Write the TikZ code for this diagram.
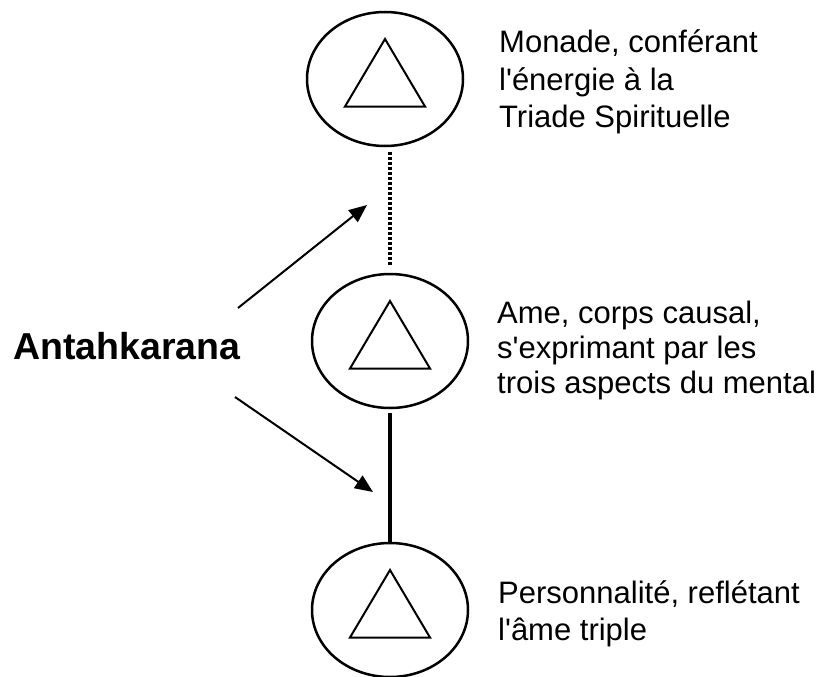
\documentclass[tikz,border=0pt]{standalone}
\usepackage{fontspec}
\setmainfont{Liberation Sans}[Ligatures={TeXOff,CommonOff}]
\usepackage{tikz}
\usetikzlibrary{shapes.geometric,arrows.meta}

\begin{document}
\begin{tikzpicture}[x=1pt,y=-1pt,
	plan/.style={draw,ellipse,line width=2.5pt,minimum width=156pt,minimum height=134pt,inner sep=0pt},
	legende/.style={anchor=base west,inner sep=0pt,align=left},
	fleche/.style={line width=2pt,-{Triangle[length=18pt,width=15pt]}}]
	\useasboundingbox (0,0) rectangle (825,677);
	% les trois plans
	\path (385,79) node[plan] (monade) {};
	\path (390,341) node[plan] (ame) {};
	\path (390,610) node[plan] (perso) {};
	\foreach \n in {monade,ame,perso}
		\draw[line width=2pt] ([shift={(0,-40)}]\n.center) -- ([shift={(40,27.5)}]\n.center) -- ([shift={(-40,27.5)}]\n.center) -- cycle;
	% liens
	\draw[line width=3.5pt,dash pattern=on 3pt off 2pt,shorten <=5pt,shorten >=6pt] (monade.south -| ame.north) -- (ame.north);
	\draw[line width=4pt,shorten <=4pt] (ame.south) -- (perso.north);
	% textes (ancre sur la derniere ligne)
	\path (499,128) node[legende,font=\fontsize{31}{38}\selectfont] (txtmonade) {Monade, conférant\\l'énergie à la\\Triade Spirituelle};
	\path (497,393) node[legende,font=\fontsize{31}{35}\selectfont] (txtame) {Ame, corps causal,\\s'exprimant par les\\trois aspects du mental};
	\path (498,640) node[legende,font=\fontsize{31}{37}\selectfont] (txtperso) {Personnalité, reflétant\\l'âme triple};
	\path (13,359) node[anchor=base west,inner sep=0pt,font=\bfseries\fontsize{37.5}{45}\selectfont] (antah) {Antahkarana};
	% fleches
	\coordinate (hautdepart) at (238,308);
	\coordinate (hautpointe) at (367,205);
	\coordinate (basdepart) at (235,397);
	\coordinate (baspointe) at (373,492);
	\draw[fleche] (hautdepart) -- (hautpointe);
	\draw[fleche] (basdepart) -- (baspointe);
\end{tikzpicture}
\end{document}
